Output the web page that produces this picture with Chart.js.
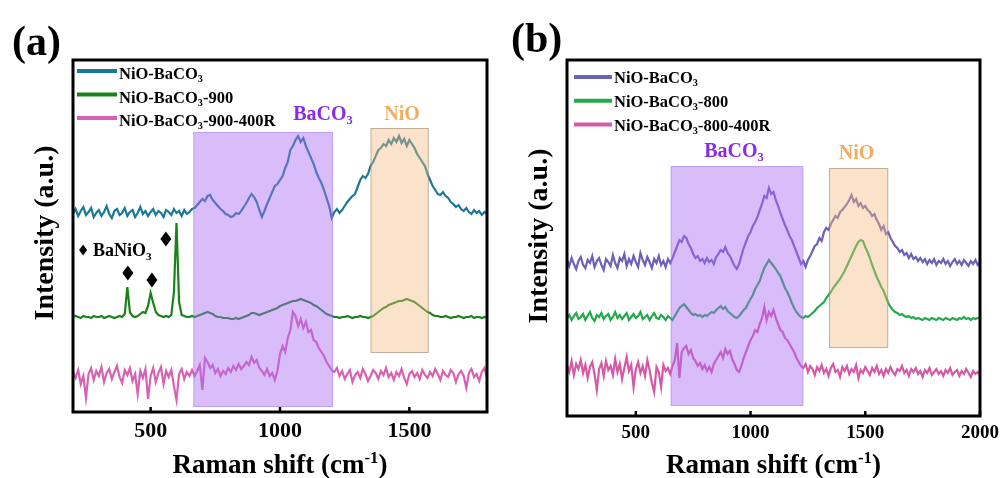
<!DOCTYPE html>
<html lang="en">
<head>
  <meta charset="UTF-8">
  <title>Raman spectra - NiO-BaCO3</title>
  <script src="https://cdn.jsdelivr.net/npm/chart.js"></script>
  <style>
    body { margin: 0; background: #fff; }
    canvas { position: absolute; top: 0; }
  </style>
</head>
<body>
  <canvas id="chartA" width="500" height="478" style="left:0"></canvas>
  <canvas id="chartB" width="505" height="478" style="left:500px"></canvas>
  <script>
    // spectra are sampled every 10 cm-1 starting at 200 cm-1
    const shiftStart = 200;
    const shiftStep = 10;

    // ---- panel (a): 200-1800 cm-1 ----
    const ticksA = [500, 1000, 1500];
    const tealA = [
      198,203,196,201,205,197,200,204,195,199,
      202,196,200,206,198,194,201,203,197,199,
      204,196,200,202,195,199,205,198,201,196,
      200,203,197,201,199,195,202,200,197,203,
      199,201,196,202,198,200,203,204,207,210,
      213,211,216,217,212,209,206,203,201,198,
      197,195,196,199,198,201,205,209,214,218,
      215,210,202,195,201,208,214,220,226,228,
      232,236,244,250,262,266,272,276,270,274,
      266,260,254,248,240,234,229,222,214,206,
      194,200,203,199,202,206,210,213,216,218,
      225,232,236,234,238,246,250,256,262,264,
      268,266,272,268,274,270,276,269,273,266,
      272,268,264,258,254,250,246,238,232,226,
      222,218,217,220,216,214,210,208,205,207,
      203,201,204,200,198,202,199,201,197,200,
      198
    ];
    const greenA = [
      95,96,95,94,96,95,95,94,96,95,
      95,96,94,95,96,95,94,95,96,95,
      98,125,100,96,95,96,98,100,99,106,
      119,109,100,97,96,95,96,95,97,120,
      189,110,97,96,95,95,96,95,96,97,
      98,99,100,99,98,96,95,95,94,94,
      94,93,93,94,93,94,95,96,97,99,
      99,98,97,98,99,100,101,102,103,104,
      106,107,108,109,110,111,111,112,113,112,
      111,110,109,107,106,104,102,100,98,97,
      96,95,95,94,95,95,96,95,94,95,
      95,96,95,95,94,95,96,98,100,102,
      104,105,107,108,109,110,111,111,112,113,
      112,111,110,108,106,104,102,100,99,97,
      96,96,95,95,96,95,94,95,95,96,
      95,94,95,95,96,94,95,95,94,95,
      94
    ];
    const pinkA = [
      40,34,42,28,36,14,38,44,32,41,
      36,45,30,39,43,33,40,46,35,29,
      42,37,44,31,38,18,41,34,43,13,
      36,44,30,39,45,28,41,35,42,26,
      12,38,43,33,40,36,42,36,41,47,
      22,54,50,44,47,39,43,36,41,38,
      44,40,46,42,48,43,46,50,47,55,
      49,52,44,41,37,43,36,39,32,41,
      58,66,60,74,82,100,96,86,93,84,
      90,80,82,72,70,64,60,56,50,46,
      42,40,44,36,41,33,38,42,30,37,
      40,34,43,38,31,36,42,39,33,41,
      37,44,35,39,32,40,36,43,34,28,
      38,41,35,39,33,42,37,34,40,36,
      43,38,32,41,37,35,42,39,30,38,
      41,36,24,39,43,35,38,31,40,44,
      34
    ];
    const namesA = ['NiO-BaCO_{3}', 'NiO-BaCO_{3}-900', 'NiO-BaCO_{3}-900-400R'];
    const bandsA = [[665, 1205], [1350, 1575]];
    const bandTopA = [280, 284];
    const bandBottomA = [5, 59];
    const peaksBaNiO3 = [[412, 139], [505, 132], [559, 173]];

    // ---- panel (b): 200-2000 cm-1 ----
    const ticksB = [500, 1000, 1500, 2000];
    const purpleB = [
      156,150,158,152,147,155,159,151,148,156,
      153,160,149,155,158,151,146,157,154,150,
      161,153,148,158,155,162,150,157,152,160,
      154,149,163,156,151,159,154,148,157,153,
      160,151,155,149,157,153,158,164,170,176,
      174,180,178,172,168,162,158,160,155,157,
      153,158,154,156,152,159,162,166,164,169,
      163,160,155,150,147,152,160,168,174,180,
      184,190,194,199,206,212,220,218,228,222,
      224,216,210,203,197,191,186,180,176,170,
      164,158,152,155,149,156,160,165,170,172,
      178,175,184,188,186,192,196,200,198,204,
      206,209,212,216,221,214,217,210,213,208,
      210,206,204,200,202,196,192,186,190,182,
      184,178,174,170,168,164,166,161,163,158,
      162,157,159,155,158,154,157,152,156,153,
      157,151,155,153,157,152,155,150,154,157,
      152,155,151,156,153,150,155,152,156,151,
      154
    ];
    const greenB = [
      98,101,96,100,103,97,99,102,96,100,
      104,98,95,101,99,103,97,100,102,96,
      99,104,98,101,97,100,103,96,99,102,
      98,100,104,97,99,101,96,100,103,98,
      97,101,99,96,100,98,96,100,104,108,
      110,112,109,106,103,101,102,100,101,99,
      101,100,102,104,103,106,108,110,107,109,
      105,103,101,99,98,100,103,106,108,113,
      117,121,127,131,135,142,148,152,156,153,
      150,147,143,140,134,128,124,119,113,108,
      104,101,99,98,100,99,101,103,105,108,
      110,112,114,118,121,124,128,131,134,137,
      141,145,150,155,160,165,170,174,176,175,
      169,164,158,151,145,139,134,129,125,119,
      113,109,106,104,103,101,102,100,99,100,
      98,99,97,98,97,96,98,97,96,98,
      97,96,98,97,96,98,97,96,98,97,
      96,98,97,99,97,98,96,98,97,98,
      98
    ];
    const pinkB = [
      50,44,55,41,52,47,56,43,51,38,
      49,54,42,26,47,53,40,55,46,50,
      41,57,44,52,37,48,59,45,51,29,
      47,54,43,50,40,56,46,33,24,49,
      44,29,51,45,48,42,50,56,73,38,
      64,68,70,62,66,58,55,50,53,47,
      51,45,49,44,52,56,60,64,58,67,
      62,65,57,52,46,44,50,58,64,70,
      76,80,86,84,92,98,109,96,104,100,
      106,98,92,86,84,78,76,72,68,64,
      58,54,50,48,52,44,50,47,41,49,
      45,51,43,47,40,48,52,44,46,39,
      49,45,50,42,47,44,51,38,46,43,
      49,45,41,48,44,50,42,46,40,47,
      43,49,44,41,47,45,50,43,46,40,
      47,44,48,42,45,39,46,43,48,41,
      44,47,42,45,40,46,43,48,41,44,
      46,40,45,42,47,43,39,45,42,44,
      41
    ];
    const namesB = ['NiO-BaCO_{3}', 'NiO-BaCO_{3}-800', 'NiO-BaCO_{3}-800-400R'];
    const bandsB = [[652, 1230], [1342, 1600]];
    const bandTopB = [250, 248];
    const bandBottomB = [10, 68];

    const FONT = '"Liberation Serif", "Times New Roman", Times, serif';
    const fontOf = size => 'bold ' + size + 'px ' + FONT;

    function toPoints(values) {
      return values.map((v, i) => ({ x: shiftStart + i * shiftStep, y: v }));
    }

    // "_{..}" is a subscript, "^{..}" a superscript
    function splitRich(str) {
      const out = [];
      const re = /([_^])\{([^}]*)\}/g;
      let last = 0, m;
      while ((m = re.exec(str))) {
        if (m.index > last) out.push({ t: str.slice(last, m.index), k: 0 });
        out.push({ t: m[2], k: m[1] === '_' ? 1 : -1 });
        last = re.lastIndex;
      }
      if (last < str.length) out.push({ t: str.slice(last), k: 0 });
      return out;
    }

    function drawRich(ctx, str, x, y, size, color, align) {
      const parts = splitRich(str);
      let total = 0;
      parts.forEach(p => {
        p.size = p.k ? size * 0.62 : size;
        ctx.font = fontOf(p.size);
        p.w = ctx.measureText(p.t).width;
        total += p.w;
      });
      let cx = align === 'center' ? x - total / 2 : x;
      ctx.fillStyle = color;
      ctx.textAlign = 'left';
      ctx.textBaseline = 'alphabetic';
      parts.forEach(p => {
        ctx.font = fontOf(p.size);
        const dy = p.k === 1 ? size * 0.2 : p.k === -1 ? -size * 0.36 : 0;
        ctx.fillText(p.t, cx, y + dy);
        cx += p.w;
      });
    }

    function diamond(ctx, x, y, w, h) {
      ctx.beginPath();
      ctx.moveTo(x, y - h / 2);
      ctx.lineTo(x + w / 2, y);
      ctx.lineTo(x, y + h / 2);
      ctx.lineTo(x - w / 2, y);
      ctx.closePath();
      ctx.fill();
    }

    // bands, frame, inner ticks and all the lettering
    function makeDecor(cfg) {
      return {
        id: 'decor',
        afterDatasetsDraw(chart) {
          const { ctx, chartArea: a } = chart;
          const sx = chart.scales.x, sy = chart.scales.y;
          ctx.save();
          cfg.bands.forEach((b, i) => {
            const x0 = sx.getPixelForValue(b[0]), x1 = sx.getPixelForValue(b[1]);
            const y0 = sy.getPixelForValue(cfg.bandTop[i]), y1 = sy.getPixelForValue(cfg.bandBottom[i]);
            ctx.fillStyle = cfg.bandFill[i];
            ctx.fillRect(x0, y0, x1 - x0, y1 - y0);
            ctx.strokeStyle = cfg.bandEdge[i];
            ctx.lineWidth = 1;
            ctx.strokeRect(x0 + 0.5, y0 + 0.5, x1 - x0 - 1, y1 - y0 - 1);
          });
          ctx.strokeStyle = '#000';
          ctx.lineWidth = 3;
          ctx.strokeRect(a.left, a.top, a.width, a.height);
          ctx.lineWidth = 2.5;
          sx.ticks.forEach(t => {
            const px = sx.getPixelForValue(t.value);
            ctx.beginPath();
            ctx.moveTo(px, a.bottom);
            ctx.lineTo(px, a.bottom - 5);
            ctx.stroke();
          });
          ctx.restore();
        },
        afterDraw(chart) {
          const { ctx, chartArea: a } = chart;
          const sx = chart.scales.x, sy = chart.scales.y;
          ctx.save();
          drawRich(ctx, cfg.letter, cfg.letterX, cfg.letterY, 42, '#000', 'left');
          drawRich(ctx, 'Raman shift (cm^{-1})', (a.left + a.right) / 2, cfg.xTitleY, 27, '#000', 'center');
          ctx.save();
          ctx.translate(cfg.yTitleX, cfg.yTitleY);
          ctx.rotate(-Math.PI / 2);
          drawRich(ctx, 'Intensity (a.u.)', 0, 0, 28, '#000', 'center');
          ctx.restore();

          const lg = cfg.legend;
          chart.data.datasets.forEach((d, i) => {
            if (!d.label) return;
            const y = lg.top + i * lg.gap;
            ctx.strokeStyle = d.borderColor;
            ctx.lineWidth = 4;
            ctx.beginPath();
            ctx.moveTo(lg.left, y);
            ctx.lineTo(lg.left + lg.len, y);
            ctx.stroke();
            drawRich(ctx, d.label, lg.left + lg.len + 2, y + lg.dy, lg.size, '#000', 'left');
          });

          cfg.notes.forEach(n => {
            drawRich(ctx, n.text, sx.getPixelForValue(n.x), sy.getPixelForValue(n.y) + n.size * 0.33,
              n.size, n.color, n.align || 'center');
          });

          ctx.fillStyle = '#000';
          (cfg.marks || []).forEach(m => {
            diamond(ctx, sx.getPixelForValue(m[0]), sy.getPixelForValue(m[1]), m[2] || 11, m[3] || 15);
          });
          ctx.restore();
        }
      };
    }

    function spectrum(label, values, color) {
      return { label: label, data: toPoints(values), borderColor: color, borderWidth: 2.2 };
    }

    function buildChart(id, datasets, xMax, yMax, ticks, pad, axisH, tickSize, decor) {
      return new Chart(document.getElementById(id), {
        type: 'line',
        data: { datasets: datasets },
        options: {
          responsive: false,
          animation: false,
          layout: { padding: pad },
          elements: { point: { radius: 0 }, line: { tension: 0 } },
          plugins: { legend: { display: false }, tooltip: { enabled: false } },
          scales: {
            x: {
              type: 'linear', min: 200, max: xMax,
              afterBuildTicks: s => { s.ticks = ticks.map(v => ({ value: v })); },
              afterFit: s => { s.height = axisH; },
              grid: { display: false, drawTicks: false },
              border: { display: false },
              ticks: {
                autoSkip: false, maxRotation: 0, padding: 6, color: '#000',
                font: { family: FONT, size: tickSize, weight: 'bold' },
                callback: v => String(v)
              }
            },
            y: { display: false, min: 0, max: yMax }
          }
        },
        plugins: [makeDecor(decor)]
      });
    }

    buildChart('chartA', [
      spectrum(namesA[0], tealA, '#1b7896'),
      spectrum(namesA[1], greenA, '#17841a'),
      spectrum(namesA[2], pinkA, '#d862b2')
    ], 1800, 352, ticksA, { left: 73, right: 13, top: 60, bottom: 0 }, 66, 22, {
      bands: bandsA, bandTop: bandTopA, bandBottom: bandBottomA,
      bandFill: ['rgba(168,108,245,0.45)', 'rgba(242,188,128,0.42)'],
      bandEdge: ['rgba(150,110,220,0.35)', 'rgba(120,110,100,0.45)'],
      letter: '(a)', letterX: 12, letterY: 55,
      xTitleY: 473, yTitleX: 53, yTitleY: 233,
      legend: { left: 77, len: 40, top: 71, gap: 23.5, dy: 8, size: 16.5 },
      notes: [
        { text: 'BaCO_{3}', x: 1166, y: 299, size: 20, color: '#8a2be6' },
        { text: 'NiO', x: 1472, y: 299, size: 20, color: '#f2ac60' },
        { text: 'BaNiO_{3}', x: 277, y: 162, size: 18, color: '#000', align: 'left' }
      ],
      marks: [
        [peaksBaNiO3[0][0], peaksBaNiO3[0][1]],
        [peaksBaNiO3[1][0], peaksBaNiO3[1][1]],
        [peaksBaNiO3[2][0], peaksBaNiO3[2][1]],
        [239, 162, 8, 11]
      ]
    });

    buildChart('chartB', [
      spectrum(namesB[0], purpleB, '#6a62b6'),
      spectrum(namesB[1], greenB, '#24a84c'),
      spectrum(namesB[2], pinkB, '#d45aa6')
    ], 2000, 356, ticksB, { left: 67, right: 20, top: 60, bottom: 0 }, 62, 19, {
      bands: bandsB, bandTop: bandTopB, bandBottom: bandBottomB,
      bandFill: ['rgba(168,108,245,0.45)', 'rgba(242,188,128,0.42)'],
      bandEdge: ['rgba(150,110,220,0.35)', 'rgba(120,110,100,0.45)'],
      letter: '(b)', letterX: 11, letterY: 52,
      xTitleY: 473, yTitleX: 47, yTitleY: 236,
      legend: { left: 74, len: 38, top: 77, gap: 23.8, dy: 6, size: 16.5 },
      notes: [
        { text: 'BaCO_{3}', x: 928, y: 266, size: 20, color: '#8a2be6' },
        { text: 'NiO', x: 1462, y: 264, size: 20, color: '#f2ac60' }
      ]
    });
  </script>
</body>
</html>
